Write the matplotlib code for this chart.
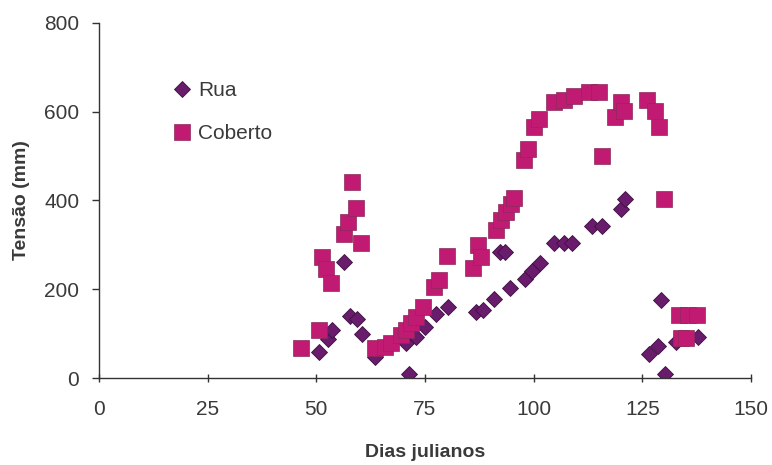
import matplotlib
matplotlib.use("Agg")
import matplotlib.pyplot as plt

plt.rcParams['font.family'] = ['Liberation Sans', 'DejaVu Sans']

rua_x = [50.6, 52.7, 53.7, 56.4, 57.7, 59.4, 60.5, 63.4, 70.7, 71.4, 73.0, 74.9,
         77.6, 80.2, 86.7, 88.3, 90.9, 92.3, 93.5, 94.5, 98.0, 99.5, 101.5,
         104.7, 107.0, 108.9, 113.5, 115.8, 120.0, 121.0, 126.5, 128.5, 129.2,
         130.3, 132.8, 137.7]
rua_y = [59, 89, 108, 261, 139, 132, 99, 48, 78, 10, 93, 116,
         145, 160, 149, 153, 179, 283, 283, 202, 222, 240, 260,
         303, 303, 303, 342, 342, 380, 403, 55, 72, 175,
         10, 82, 93]

cob_x = [46.6, 50.6, 51.3, 52.3, 53.5, 56.3, 57.3, 58.3, 59.2, 60.2, 63.4, 65.7,
         67.2, 69.5, 70.7, 71.8, 73.0, 74.5, 77.0, 78.3, 80.0, 86.0, 87.1, 87.9,
         91.3, 92.5, 93.6, 94.8, 95.5, 97.8, 98.6, 100.1, 101.3, 104.7, 107.0,
         109.3, 112.7, 115.0, 115.8, 118.8, 120.0, 120.8, 126.1, 128.0, 128.8,
         130.0, 133.5, 135.5, 137.5, 133.8, 135.1]
cob_y = [68, 109, 273, 246, 214, 324, 352, 441, 384, 303, 67, 70,
         78, 97, 108, 123, 138, 160, 205, 220, 274, 248, 299, 273,
         333, 355, 374, 393, 405, 490, 515, 565, 584, 621, 625,
         636, 645, 645, 501, 587, 621, 602, 625, 602, 565,
         404, 142, 142, 142, 91, 91]

x_ticks = [0, 25, 50, 75, 100, 125, 150]
y_ticks = [0, 200, 400, 600, 800]

fig = plt.figure(figsize=(7.72, 4.65), dpi=100)
ax = fig.add_axes([0.128, 0.187, 0.845, 0.764])

rua_col = '#6a1c6c'
cob_col = '#c01a72'
txt_col = '#3a3a3a'

ax.plot(rua_x, rua_y, linestyle='none', marker='D', markersize=8.6,
        markerfacecolor=rua_col, markeredgecolor='#3c1040', markeredgewidth=0.6,
        label='Rua')
ax.plot(cob_x, cob_y, linestyle='none', marker='s', markersize=11.5,
        markerfacecolor=cob_col, markeredgecolor='#8a2a5a', markeredgewidth=0.5,
        label='Coberto')

ax.set_xlim(0, 150)
ax.set_ylim(0, 800)
ax.set_xticks(x_ticks)
ax.set_yticks(y_ticks)
ax.spines['top'].set_visible(False)
ax.spines['right'].set_visible(False)
for s in ['left', 'bottom']:
    ax.spines[s].set_color('#333333')
    ax.spines[s].set_linewidth(1.0)
ax.tick_params(axis='x', direction='inout', length=6, width=1, color='#333333',
               labelsize=15, labelcolor=txt_col, pad=13)
ax.tick_params(axis='y', direction='out', length=5, width=1, color='#333333',
               labelsize=15, labelcolor=txt_col, pad=9)

ax.set_xlabel('Dias julianos', fontsize=14, fontweight='bold', color=txt_col, labelpad=18)
ax.set_ylabel('Tensão (mm)', fontsize=14, fontweight='bold', color=txt_col, labelpad=10)

leg = ax.legend(loc='upper left', bbox_to_anchor=(0.099, 0.86), frameon=False,
                fontsize=15, labelspacing=1.15, handletextpad=0.25,
                handlelength=1.0, borderaxespad=0, markerscale=0.95)
for t in leg.get_texts():
    t.set_color(txt_col)

fig.savefig('out.png', dpi=100)
